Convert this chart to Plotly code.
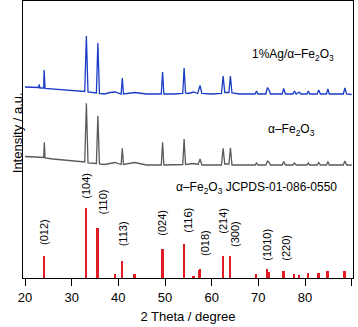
import plotly.graph_objects as go

# ---- data (y in arbitrary intensity units) ----
blue_x = [20, 22, 22.9, 23.06, 23.2, 24.0, 24.1, 24.3, 26, 28, 30, 32.8, 33.15, 33.5,
          35.3, 35.61, 35.95, 37, 38.2, 39.3, 40.6, 40.85, 41.1, 43.52, 46, 49.2, 49.48,
          49.75, 52, 53.8, 54.09, 54.4, 55, 56.15, 57.0, 57.5, 57.9, 60, 62.1, 62.45, 62.8,
          63.7, 64.01, 64.35, 66, 69.3, 69.6, 69.9, 71.6, 71.95, 72.3, 72.6, 75.1, 75.43,
          75.8, 77.4, 77.73, 78.1, 78.76, 79.1, 80.4, 80.71, 81.0, 82.6, 82.94, 83.3, 84.6,
          84.9, 85.2, 88.2, 88.54, 88.9, 90]
blue_y = [191, 190.5, 190.5, 193.5, 190, 190, 208, 189.5, 189, 188, 187.5, 186.5, 242, 186,
          185, 235, 184.5, 184, 185.5, 186, 184, 200, 184, 185.5, 184, 184, 206,
          184, 184, 184.5, 210, 185, 184.5, 186, 184.5, 192.5, 184.5, 184, 184.5, 202, 185.5,
          185.5, 202, 185, 184, 184, 187, 184, 184, 190.5, 188, 184, 184, 189.5,
          184, 184, 187, 184, 186, 184, 184, 187, 184, 184, 188, 184, 184,
          189, 184, 184, 190, 184, 183.5]

gray_x = [20, 22, 24.0, 24.14, 24.3, 26, 28, 30, 32.8, 33.15, 33.5, 35.3, 35.61, 35.95, 37,
          39.28, 40.6, 40.85, 41.1, 43.52, 46, 49.2, 49.48, 49.75, 53.8, 54.09, 54.4, 56.15,
          57.1, 57.5, 57.9, 62.1, 62.45, 62.8, 63.7, 64.01, 64.35, 69.3, 69.6, 69.9, 71.6,
          71.95, 72.3, 72.6, 75.1, 75.43, 75.8, 77.4, 77.73, 78.1, 80.4, 80.71, 81.0, 82.6,
          82.94, 83.3, 84.6, 84.9, 85.2, 88.2, 88.54, 88.9, 90]
gray_y = [121.5, 121, 120.5, 135.7, 120, 119, 118, 117, 116, 174.7, 115, 114.5, 162.3, 114, 113.5,
          115.5, 113.5, 129.7, 113.5, 115.5, 113, 113, 135.7, 113, 113.5, 139, 113.5, 114.5,
          113.5, 119, 113, 113, 129.7, 114, 114, 130.3, 113, 113, 115, 113, 113,
          117, 115.5, 113, 113, 116.5, 113, 113, 115, 113, 113, 115, 113, 113,
          115.5, 113, 113, 116.5, 113, 113, 117, 113, 113]

ref_pos = [24.14, 33.15, 35.61, 39.28, 40.85, 43.52, 49.48, 54.09, 56.15, 57.43, 57.59,
           62.45, 64.01, 69.6, 71.94, 72.26, 75.43, 77.73, 78.76, 80.71, 82.94, 84.9, 88.54]
ref_int = [22, 70, 50, 4, 17, 4, 29, 34, 2, 8, 9, 22, 22, 4, 9, 6, 7, 4, 3, 5, 5, 7, 7]

hkl_labels = ["(012)", "(104)", "(110)", "(113)", "(024)", "(116)", "(018)", "(214)",
              "(300)", "(1010)", "(220)"]
hkl_x = [24.07, 33.0, 36.8, 41.06, 49.3, 54.86, 58.57, 62.36, 65.0, 71.79, 75.86]
hkl_y = [46, 92, 76, 44, 55, 58, 35, 57, 44, 33, 30]

FONT = "Liberation Sans, Arial, sans-serif"

fig = go.Figure()
fig.add_trace(go.Bar(x=ref_pos, y=ref_int, width=0.42, marker=dict(color="#e01b24", line=dict(width=0)),
                     showlegend=False))
fig.add_trace(go.Scatter(x=gray_x, y=gray_y, mode="lines", line=dict(color="#5a5a5a", width=1.3),
                         showlegend=False))
fig.add_trace(go.Scatter(x=blue_x, y=blue_y, mode="lines", line=dict(color="#1b3cc4", width=1.3),
                         showlegend=False))

for t, x, y in zip(hkl_labels, hkl_x, hkl_y):
    fig.add_annotation(x=x, y=y, text=t, textangle=-90, showarrow=False,
                       font=dict(family=FONT, size=11, color="black"))

fig.add_annotation(x=77.4, y=223, text="1%Ag/α–Fe<sub>2</sub>O<sub>3</sub>", showarrow=False,
                   font=dict(family=FONT, size=12, color="black"))
fig.add_annotation(x=77.1, y=148, text="α–Fe<sub>2</sub>O<sub>3</sub>", showarrow=False,
                   font=dict(family=FONT, size=12, color="black"))
fig.add_annotation(x=69.65, y=90, text="α–Fe<sub>2</sub>O<sub>3</sub> JCPDS-01-086-0550", showarrow=False,
                   font=dict(family=FONT, size=12, color="black"))
fig.add_annotation(xref="paper", yref="paper", x=-0.045, y=0.525, text="Intensity / a.u.",
                   textangle=-90, showarrow=False, font=dict(family=FONT, size=13, color="black"))

fig.update_layout(
    width=358, height=327,
    margin=dict(l=23, r=5, t=1, b=49),
    paper_bgcolor="white", plot_bgcolor="white",
    bargap=0,
    font=dict(family=FONT, size=13, color="black"),
    xaxis=dict(range=[19.57, 90.28], tickvals=[20, 30, 40, 50, 60, 70, 80, 90],
               ticks="outside", ticklen=7, tickwidth=1, tickcolor="black",
               showline=True, linecolor="black", linewidth=1, mirror=True,
               showgrid=False, zeroline=False,
               title=dict(text="2 Theta / degree", font=dict(family=FONT, size=13), standoff=8),
               tickfont=dict(family=FONT, size=13, color="black")),
    yaxis=dict(range=[0, 277], showticklabels=False, ticks="",
               showline=True, linecolor="black", linewidth=1, mirror=True,
               showgrid=False, zeroline=False),
)

fig.write_html("out.html", config={"displayModeBar": False},
               post_script="document.body.style.margin='0';")
